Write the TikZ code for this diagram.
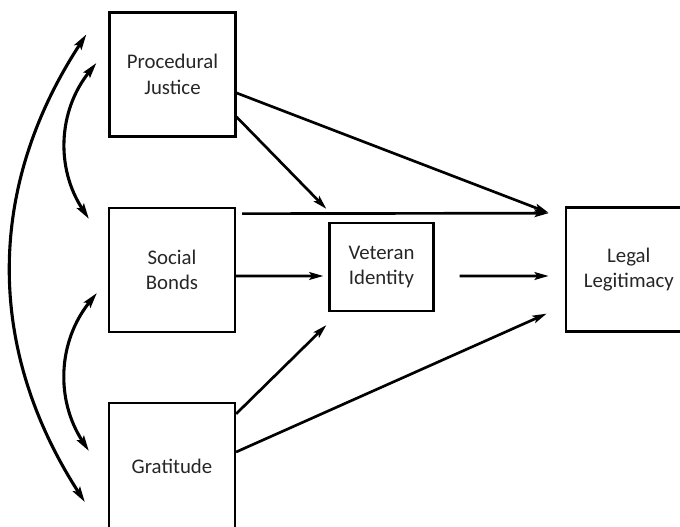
\documentclass[tikz,border=0pt]{standalone}
\usepackage{fontspec}
\setmainfont{Carlito}
\usetikzlibrary{positioning, arrows.meta, calc}

\begin{document}
\begin{tikzpicture}[
  box/.style={draw, line width=1.6pt, minimum width=3.15cm, minimum height=3.1cm, align=center, font=\fontsize{14.8}{18}\selectfont, text=black!85},
  arr/.style={line width=1.9pt, -{Stealth[length=10pt, width=5.5pt, inset=2pt]}},
  dbl/.style={line width=2.2pt, {Stealth[length=11pt, width=6pt, inset=2pt]}-{Stealth[length=11pt, width=6pt, inset=2pt]}}
]
\useasboundingbox (0,0) rectangle (17,13.175);

% Boxes
\node[box] (pj) at (4.3125, 11.3125) {Procedural\\Justice};
\node[box] (sb) at (4.3, 6.425) {Social\\Bonds};
\node[box, minimum height=3.15cm] (gr) at (4.3, 1.525) {Gratitude};
\node[box, minimum width=2.6cm, minimum height=2.2cm] (vi) at (9.5375, 6.5) {Veteran\\Identity};
\node[box] (ll) at (15.72, 6.4375) {Legal\\Legitimacy};

% Paths to identity and legitimacy
\draw[arr] ([yshift=-0.4625cm]pj.east) -- ([xshift=-0.4cm, yshift=-0.16cm]ll.north west);
\draw[arr] ([yshift=-1.0625cm]pj.east) -- ([xshift=-0.05cm, yshift=0.325cm]vi.north west);
\draw[arr] ([xshift=0.15cm, yshift=-0.17cm]sb.north east) -- ([xshift=-0.4cm, yshift=-0.17cm]ll.north west);
\draw[arr] ([yshift=-0.15cm]sb.east) -- ([xshift=-0.125cm, yshift=-0.225cm]vi.west);
\draw[arr] ([xshift=0.625cm, yshift=-0.225cm]vi.east) -- ([xshift=-0.4cm, yshift=-0.1625cm]ll.west);
\draw[arr] ([yshift=-0.3cm]gr.north east) -- ([xshift=-0.05cm, yshift=-0.325cm]vi.south west);
\draw[arr] ([yshift=0.35cm]gr.east) -- ([xshift=-0.45cm, yshift=0.475cm]ll.south west);

% Correlations
\draw[dbl] ([xshift=-0.55cm, yshift=-0.575cm]pj.north west) to[bend right=33] ([xshift=-0.575cm, yshift=0.7cm]gr.south west);
\draw[dbl] ([xshift=-0.3cm, yshift=0.2875cm]pj.west) to[bend right=36] ([xshift=-0.475cm, yshift=-0.3cm]sb.north west);
\draw[dbl] ([xshift=-0.275cm, yshift=-0.575cm]sb.west) to[bend right=36] ([xshift=-0.475cm, yshift=0.375cm]gr.west);
\end{tikzpicture}
\end{document}
